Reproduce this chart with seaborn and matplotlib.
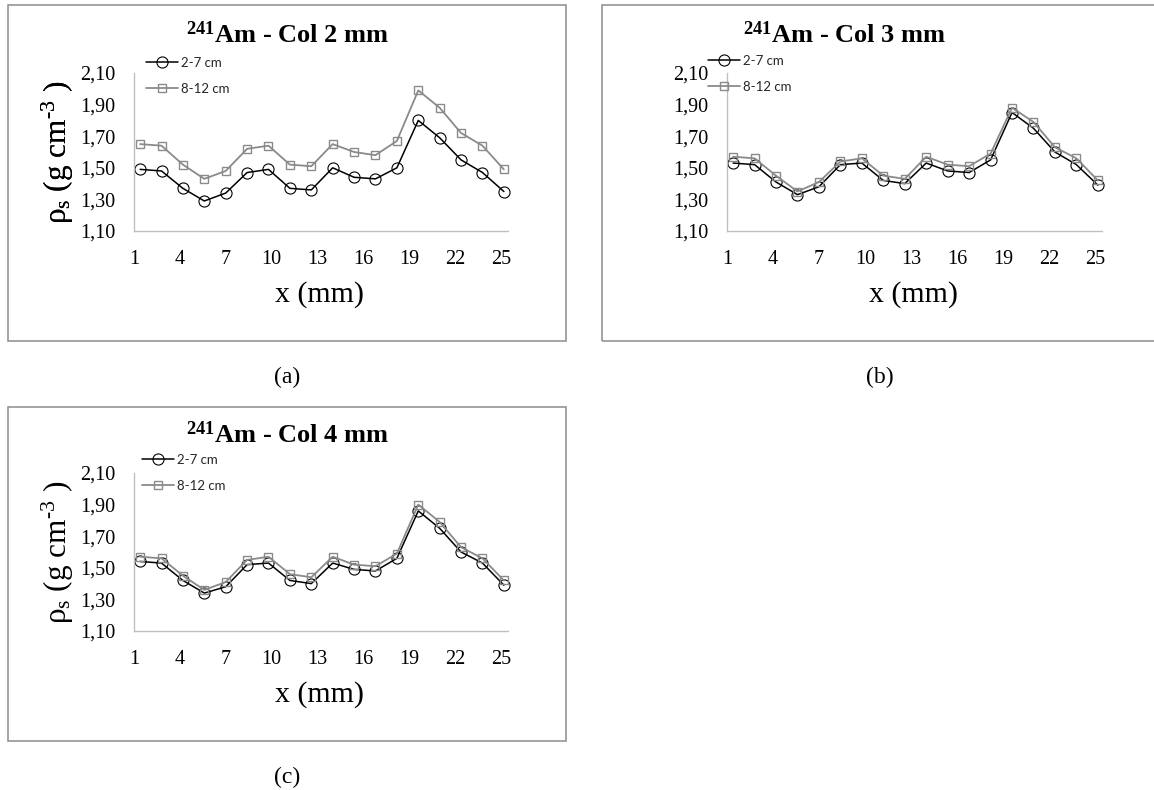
import matplotlib
matplotlib.use("Agg")
import matplotlib.pyplot as plt
from matplotlib.patches import Rectangle
from matplotlib.ticker import FixedLocator, FuncFormatter
import pandas as pd
import seaborn as sns

# Measurement positions along the sample (mm)
x_mm = [1.4, 2.8, 4.2, 5.6, 7.0, 8.4, 9.8, 11.2, 12.6, 14.0,
        15.4, 16.8, 18.2, 19.6, 21.0, 22.4, 23.8, 25.2]

# Bulk density profiles (g cm-3), 2 mm collimator
col2_2_7 = [1.49, 1.48, 1.37, 1.29, 1.34, 1.47, 1.49, 1.37, 1.36, 1.50,
            1.44, 1.43, 1.50, 1.80, 1.69, 1.55, 1.47, 1.35]
col2_8_12 = [1.65, 1.64, 1.52, 1.43, 1.48, 1.62, 1.64, 1.52, 1.51, 1.65,
             1.60, 1.58, 1.67, 1.99, 1.88, 1.72, 1.64, 1.49]
# 3 mm collimator
col3_2_7 = [1.53, 1.52, 1.41, 1.33, 1.38, 1.52, 1.53, 1.42, 1.40, 1.53,
            1.48, 1.47, 1.55, 1.85, 1.75, 1.60, 1.52, 1.39]
col3_8_12 = [1.57, 1.56, 1.45, 1.35, 1.41, 1.54, 1.56, 1.45, 1.43, 1.57,
             1.52, 1.51, 1.59, 1.88, 1.79, 1.63, 1.56, 1.42]
# 4 mm collimator
col4_2_7 = [1.54, 1.53, 1.42, 1.34, 1.38, 1.52, 1.53, 1.42, 1.40, 1.53,
            1.49, 1.48, 1.56, 1.86, 1.75, 1.60, 1.53, 1.39]
col4_8_12 = [1.57, 1.56, 1.45, 1.36, 1.41, 1.55, 1.57, 1.46, 1.44, 1.57,
             1.52, 1.51, 1.59, 1.90, 1.79, 1.63, 1.56, 1.42]

series_labels = ["2-7 cm", "8-12 cm"]
x_ticks = [1, 4, 7, 10, 13, 16, 19, 22, 25]
y_ticks = [1.10, 1.30, 1.50, 1.70, 1.90, 2.10]
titles = ["Col 2 mm", "Col 3 mm", "Col 4 mm"]
captions = ["(a)", "(b)", "(c)"]

sns.set_theme(style="white")
plt.rcParams["font.family"] = ["Liberation Serif", "DejaVu Serif"]
plt.rcParams["mathtext.fontset"] = "custom"
plt.rcParams["mathtext.rm"] = "Liberation Serif"
plt.rcParams["mathtext.it"] = "Liberation Serif:italic"
plt.rcParams["mathtext.bf"] = "Liberation Serif:bold"

W, H = 1154, 790
fig = plt.figure(figsize=(W / 100, H / 100), dpi=100)
fig.patch.set_facecolor("white")


def fig_rect(left, top, right, bottom):
    """Pixel box (from top-left) -> figure fraction rect."""
    return [left / W, 1 - bottom / H, (right - left) / W, (bottom - top) / H]


def fx(px):
    return px / W


def fy(py):
    return 1 - py / H


# layout of each panel in pixels
panels = [
    dict(ax=(134, 73, 508, 231), frame=(8, 5, 566, 341), title=(287, 35),
         legend=(146, 57), caption=(287, 377),
         data=(col2_2_7, col2_8_12)),
    dict(ax=(727, 73, 1102, 231), frame=(602, 5, 1162, 341), title=(844, 35),
         legend=(708, 55), caption=(880, 377),
         data=(col3_2_7, col3_8_12)),
    dict(ax=(134, 473, 508, 631), frame=(8, 407, 566, 741), title=(287, 435),
         legend=(142, 454), caption=(287, 777),
         data=(col4_2_7, col4_8_12)),
]

styles = [
    dict(color="black", marker="o", markersize=8, lw=1.1, mew=0.8),
    dict(color="#8a8a8a", marker="s", markersize=5.5, lw=1.3, mew=1.0),
]

comma = FuncFormatter(lambda v, _: f"{v:.2f}".replace(".", ","))

for i, p in enumerate(panels):
    # chart-area border
    l, t, r, b = p["frame"]
    fig.patches.append(Rectangle((fx(l), fy(b)), (r - l) / W, (b - t) / H,
                                 transform=fig.transFigure, fill=False,
                                 edgecolor="#8c8c8c", linewidth=1.1,
                                 zorder=0))

    ax = fig.add_axes(fig_rect(*p["ax"]))
    ax.set_facecolor("none")
    for label, values, st in zip(series_labels, p["data"], styles):
        df = pd.DataFrame({"x": x_mm, "rho": values})
        sns.lineplot(data=df, x="x", y="rho", ax=ax, label=label,
                     color=st["color"], linewidth=st["lw"],
                     marker=st["marker"], markersize=st["markersize"],
                     markerfacecolor="none", markeredgecolor=st["color"],
                     markeredgewidth=st["mew"], clip_on=False)

    ax.set_xlim(1, 25.47)
    ax.set_ylim(1.10, 2.10)
    ax.xaxis.set_major_locator(FixedLocator(x_ticks))
    ax.yaxis.set_major_locator(FixedLocator(y_ticks))
    ax.yaxis.set_major_formatter(comma)
    ax.tick_params(axis="both", length=0, pad=13.7, labelsize=14.5,
                   labelcolor="black")
    for side in ("top", "right"):
        ax.spines[side].set_visible(False)
    for side in ("left", "bottom"):
        ax.spines[side].set_color("#bfbfbf")
        ax.spines[side].set_linewidth(1.0)
    ax.grid(False)

    ax.set_xlabel("x (mm)", fontsize=21.5, color="black")
    ax.xaxis.set_label_coords(0.497, -0.405)
    ax.xaxis.label.set_verticalalignment("center")
    ax.set_ylabel("ρ$_{\\mathregular{s}}$ (g cm$^{\\mathregular{\u2010}\\mathregular{3}}$ )",
                  fontsize=22.5, color="black")
    ax.yaxis.set_label_coords((58 - p["ax"][0]) / (p["ax"][2] - p["ax"][0]), 0.5)
    ax.yaxis.label.set_verticalalignment("center")

    lx, ly = p["legend"]
    ax.legend(loc="upper left", bbox_to_anchor=(fx(lx), fy(ly)),
              bbox_transform=fig.transFigure, frameon=False,
              prop={"family": "Lato", "size": 9.5}, borderpad=0,
              borderaxespad=0, handlelength=2.4, handletextpad=0.25,
              labelspacing=1.05, numpoints=1)

    tx, ty = p["title"]
    fig.text(fx(tx), fy(ty), r"$^{\mathbf{241}}$Am - " + titles[i],
             ha="center", va="center", fontsize=19, fontweight="bold",
             color="black")
    cx, cy = p["caption"]
    fig.text(fx(cx), fy(cy), captions[i], ha="center", va="center",
             fontsize=17, color="black")

fig.savefig("out.png", dpi=100, facecolor="white")
